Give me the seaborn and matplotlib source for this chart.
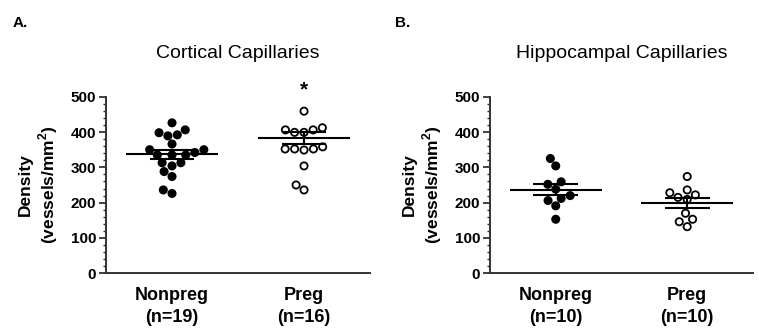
import matplotlib
matplotlib.use("Agg")
import matplotlib.pyplot as plt
from matplotlib.ticker import MultipleLocator
import pandas as pd
import seaborn as sns

# values (vessels/mm^2)
groups = ["Nonpreg", "Preg"]
group_labels = ["Nonpreg\n(n=19)", "Preg\n(n=16)"]
group_labels_b = ["Nonpreg\n(n=10)", "Preg\n(n=10)"]

cortical_nonpreg = [426, 406, 392, 398, 389, 366, 350, 350, 342, 335,
                    335, 335, 313, 313, 304, 288, 274, 236, 226]
cortical_preg = [459, 406, 399, 399, 406, 412, 358, 352, 349, 352,
                 352, 304, 250, 236]
cortical_mean = [337, 383]
cortical_sem = [12, 16]

hippo_nonpreg = [325, 304, 259, 252, 238, 220, 212, 206, 191, 153]
hippo_preg = [274, 236, 222, 209, 215, 228, 170, 153, 146, 132]
hippo_mean = [237, 199]
hippo_sem = [16, 15]


def make_df(nonpreg, preg):
    return pd.DataFrame({
        'group': ['Nonpreg'] * len(nonpreg) + ['Preg'] * len(preg),
        'density': nonpreg + preg,
    })


def draw_panel(ax, df, means, sems, labels, title):
    sns.swarmplot(data=df, x='group', y='density', hue='group', order=groups,
                  hue_order=groups, palette={'Nonpreg': 'black', 'Preg': 'white'},
                  edgecolor='black', linewidth=1.3, size=5.2, legend=False, ax=ax)
    for i, (m, s) in enumerate(zip(means, sems)):
        ax.hlines(m, i - 0.35, i + 0.35, color='black', lw=1.5, zorder=5)
        ax.hlines([m - s, m + s], i - 0.17, i + 0.17, color='black', lw=1.5, zorder=5)
        ax.vlines(i, m - s, m + s, color='black', lw=1.5, zorder=5)

    ax.set_ylim(0, 500)
    ax.set_xlim(-0.5, 1.5)
    ax.yaxis.set_major_locator(MultipleLocator(100))
    ax.yaxis.set_minor_locator(MultipleLocator(20))
    ax.tick_params(axis='y', which='both', left=True, direction='out',
                   color='#333333')
    ax.tick_params(axis='y', which='major', length=5, width=1.3,
                   labelsize=11, pad=2)
    ax.tick_params(axis='y', which='minor', length=2.5, width=1)
    ax.tick_params(axis='x', length=0, labelsize=13, pad=10)
    ax.set_xticks([0, 1])
    ax.set_xticklabels(labels, fontweight='bold', linespacing=1.35)
    for t in ax.get_yticklabels():
        t.set_fontweight('bold')
    ax.set_xlabel('')
    ax.set_ylabel('Density\n(vessels/mm$^\\mathbf{2}$)', fontsize=12.5,
                  fontweight='bold', labelpad=8)
    for side in ['top', 'right']:
        ax.spines[side].set_visible(False)
    for side in ['left', 'bottom']:
        ax.spines[side].set_linewidth(1.4)
        ax.spines[side].set_color('#333333')
    ax.set_title(title, fontsize=14, pad=28)
    return ax


sns.set_style('white')
plt.rcParams['font.family'] = ['Liberation Sans', 'DejaVu Sans']
plt.rcParams['mathtext.fontset'] = 'custom'
plt.rcParams['mathtext.bf'] = 'Liberation Sans:bold'
plt.rcParams['text.color'] = 'black'
plt.rcParams['axes.labelcolor'] = 'black'
plt.rcParams['xtick.color'] = 'black'
plt.rcParams['ytick.color'] = 'black'

fig = plt.figure(figsize=(7.59, 3.31), dpi=100)
ax1 = fig.add_axes([0.1397, 0.1743, 0.3478, 0.5336])
ax2 = fig.add_axes([0.6456, 0.1743, 0.3464, 0.5336])

draw_panel(ax1, make_df(cortical_nonpreg, cortical_preg), cortical_mean,
           cortical_sem, group_labels, 'Cortical Capillaries')
draw_panel(ax2, make_df(hippo_nonpreg, hippo_preg), hippo_mean,
           hippo_sem, group_labels_b, 'Hippocampal Capillaries')

ax1.text(1, 493, '*', ha='center', va='bottom', fontsize=15,
         fontweight='bold', clip_on=False)

fig.text(0.016, 0.93, 'A.', fontsize=11, fontweight='bold', va='center')
fig.text(0.52, 0.93, 'B.', fontsize=11, fontweight='bold', va='center')

fig.savefig('out.png', dpi=100)
